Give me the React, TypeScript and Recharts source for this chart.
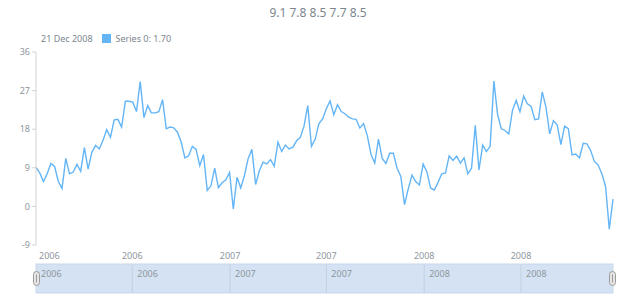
import { LineChart, Line, XAxis, YAxis, Brush } from "recharts";

const title = "9.1 7.8 8.5 7.7 8.5";
const legendDate = "21 Dec 2008";
const seriesName = "Series 0";

const firstWeek = Date.UTC(2006, 0, 1);
const weekMs = 7 * 24 * 3600 * 1000;

// weekly values, 1 Jan 2006 .. 21 Dec 2008
const values = [
  9.1, 7.8, 5.8, 7.6, 10.0, 9.3, 5.8, 4.2, 11.2, 7.6, 8.0, 9.8, 8.2, 13.7, 8.7, 12.6,
  14.2, 13.4, 15.4, 17.9, 16.1, 20.2, 20.3, 18.5, 24.5, 24.5, 24.3, 22.1, 29.1, 20.7,
  23.5, 21.8, 21.8, 22.1, 24.9, 18.1, 18.5, 18.3, 17.3, 15.0, 11.3, 11.8, 14.0, 13.3,
  9.5, 12.1, 3.7, 4.8, 8.9, 4.4, 5.5, 6.2, 7.9, -0.6, 6.8, 4.3, 7.2, 11.2, 13.3, 5.1,
  8.3, 10.3, 9.9, 10.9, 9.4, 15.0, 12.8, 14.3, 13.4, 13.8, 15.3, 16.1, 18.7, 23.5,
  14.0, 15.7, 19.3,
  20.4, 22.8, 24.6, 21.4, 23.7, 22.1, 21.6, 20.8, 20.4, 20.3, 18.3, 19.3, 16.5, 12.1,
  10.1, 15.7, 11.2, 10.0, 12.4, 12.4, 8.9, 7.0, 0.4, 4.1, 7.3, 5.8, 5.0, 9.9, 8.1, 4.3,
  3.8, 5.6, 7.6, 7.8, 11.8, 10.7, 11.7, 10.1, 11.3, 7.6, 8.9, 18.9, 8.5, 14.3, 12.8,
  14.0, 29.2, 21.4, 18.1, 17.7, 16.9, 22.4, 24.7, 22.1, 25.7, 23.9, 23.3, 20.2, 20.4,
  26.7, 23.1, 16.9, 20.0, 19.0, 14.4, 18.7, 18.1, 12.0, 12.2, 11.3, 14.7, 14.6, 13.0,
  10.5, 9.7, 7.6, 4.7, -5.3, 1.7,
];

const xTicks = [
  Date.UTC(2006, 0, 1),
  Date.UTC(2006, 6, 1),
  Date.UTC(2007, 0, 1),
  Date.UTC(2007, 6, 1),
  Date.UTC(2008, 0, 1),
  Date.UTC(2008, 6, 1),
];
const yTicks = [-9, 0, 9, 18, 27, 36];

const data = values.map((v, i) => ({ t: firstWeek + i * weekMs, value: v }));
const lastValue = values[values.length - 1];

const font = "'Noto Sans', sans-serif";
const lineColor = "#64b5f6";

const yearOf = (t: number) => String(new Date(t).getUTCFullYear());

// axis label plus the scroller divider and label under it
const TimeTick = (props: any) => {
  const { x, payload, index } = props;
  const label = yearOf(payload.value);
  return (
    <g>
      <text
        x={index === 0 ? x + 3 : x}
        y={259}
        textAnchor={index === 0 ? "start" : "middle"}
        fontSize={9}
        fontFamily={font}
        fill="#8f979e"
      >
        {label}
      </text>
      {index > 0 && <line x1={x} x2={x} y1={265} y2={293} stroke="#c2d0e0" />}
      <text x={x + 5} y={277} textAnchor="start" fontSize={9} fontFamily={font} fill="#8f979e">
        {label}
      </text>
    </g>
  );
};

const Handle = (props: any) => {
  const { x, y, height } = props;
  const cx = x + 0.5;
  const cy = y + height / 2;
  return (
    <g>
      <rect x={cx - 3} y={cy - 7} width={6} height={14} rx={3} fill="#e6e6e6" stroke="#9a9a9a" />
      <line x1={cx} x2={cx} y1={cy - 4} y2={cy + 4} stroke="#9a9a9a" />
    </g>
  );
};

export default function App() {
  return (
    <div style={{ position: "absolute", left: 0, top: 0, width: 620, height: 300, background: "#fff" }}>
      <div
        style={{
          position: "absolute",
          top: 4,
          left: 0,
          width: 636,
          textAlign: "center",
          fontFamily: font,
          fontSize: 12,
          color: "#7c868e",
        }}
      >
        {title}
      </div>
      <div
        style={{
          position: "absolute",
          top: 32,
          left: 41,
          display: "flex",
          alignItems: "center",
          fontFamily: font,
          fontSize: 9,
          color: "#7c868e",
          whiteSpace: "nowrap",
        }}
      >
        <span>{legendDate}</span>
        <span style={{ display: "inline-block", width: 9, height: 9, background: lineColor, marginLeft: 9, marginRight: 5 }} />
        <span>{`${seriesName}: ${lastValue.toFixed(2)}`}</span>
      </div>
      <LineChart width={620} height={300} data={data} margin={{ top: 52, right: 7, left: 0, bottom: 0 }}>
        <Brush
          dataKey="t"
          x={36}
          y={264}
          width={577}
          height={29}
          travellerWidth={1}
          fill="#d7e5f6"
          stroke="#c8d8eb"
          traveller={Handle}
          tickFormatter={yearOf}
        />
        <XAxis
          dataKey="t"
          type="number"
          scale="time"
          domain={["dataMin", "dataMax"]}
          ticks={xTicks}
          tick={TimeTick}
          axisLine={false}
          tickLine={false}
          height={26}
          interval={0}
        />
        <YAxis
          domain={[-9, 36]}
          ticks={yTicks}
          width={36}
          axisLine={{ stroke: "#d3d3d3" }}
          tickLine={{ stroke: "#d3d3d3" }}
          tickSize={4}
          tick={{ fontSize: 9, fontFamily: font, fill: "#8f979e" }}
        />
        <Line
          type="linear"
          dataKey="value"
          stroke={lineColor}
          strokeWidth={1.4}
          dot={false}
          isAnimationActive={false}
        />
      </LineChart>
    </div>
  );
}
